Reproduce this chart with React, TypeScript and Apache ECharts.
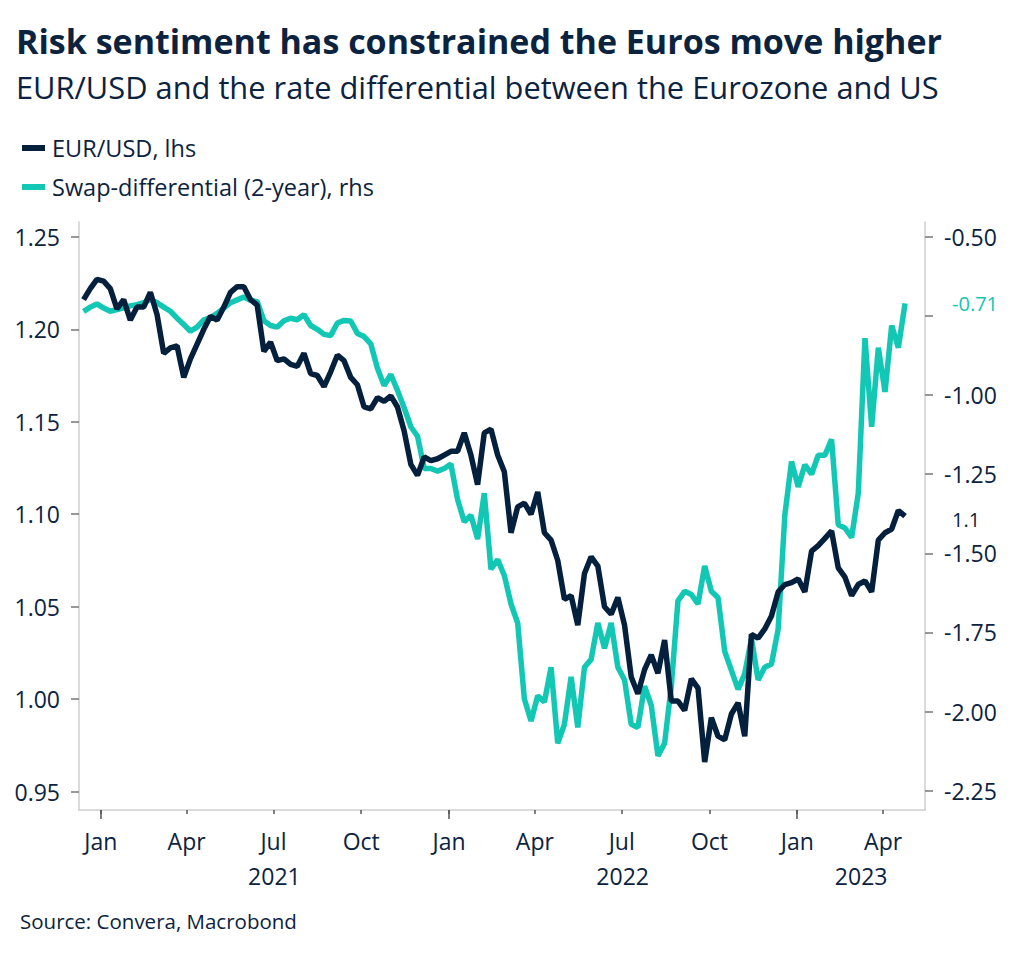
import React, { useEffect, useRef } from "react";
import * as echarts from "echarts";

// Weekly observations starting Monday 14 Dec 2020
const START_DATE = Date.UTC(2020, 11, 14);
const WEEK_MS = 7 * 86400000;

const EUR_USD = [
  1.216, 1.222, 1.227, 1.226, 1.222, 1.211, 1.216, 1.205, 1.212, 1.212,
  1.220, 1.208, 1.187, 1.190, 1.191, 1.174, 1.184, 1.192, 1.200, 1.207,
  1.205, 1.212, 1.220, 1.223, 1.223, 1.216, 1.213, 1.188, 1.193, 1.183,
  1.184, 1.181, 1.180, 1.187, 1.176, 1.175, 1.169, 1.177, 1.186, 1.183,
  1.174, 1.170, 1.158, 1.157, 1.163, 1.161, 1.164, 1.158, 1.145, 1.127,
  1.121, 1.131, 1.129, 1.130, 1.132, 1.134, 1.134, 1.144, 1.132, 1.116,
  1.144, 1.146, 1.132, 1.123, 1.090, 1.104, 1.106, 1.100, 1.112, 1.090,
  1.086, 1.075, 1.054, 1.056, 1.040, 1.068, 1.077, 1.072, 1.050, 1.046,
  1.055, 1.040, 1.012, 1.003, 1.016, 1.024, 1.014, 1.032, 0.999, 0.999,
  0.994, 1.011, 1.006, 0.966, 0.990, 0.980, 0.978, 0.992, 0.998, 0.980,
  1.035, 1.033, 1.038, 1.045, 1.058, 1.062, 1.063, 1.065, 1.058, 1.080,
  1.083, 1.087, 1.091, 1.071, 1.066, 1.056, 1.062, 1.064, 1.058, 1.086,
  1.090, 1.092, 1.102, 1.099,
];

const SWAP_2Y = [
  -0.736, -0.722, -0.712, -0.725, -0.735, -0.730, -0.724, -0.718, -0.714, -0.708,
  -0.698, -0.708, -0.722, -0.735, -0.757, -0.777, -0.798, -0.785, -0.762, -0.755,
  -0.742, -0.725, -0.708, -0.699, -0.690, -0.700, -0.705, -0.765, -0.780, -0.785,
  -0.765, -0.757, -0.762, -0.746, -0.780, -0.792, -0.808, -0.812, -0.772, -0.764,
  -0.766, -0.805, -0.815, -0.838, -0.915, -0.970, -0.935, -0.985, -1.040, -1.100,
  -1.130, -1.232, -1.232, -1.240, -1.232, -1.218, -1.330, -1.400, -1.380, -1.455,
  -1.310, -1.550, -1.520, -1.570, -1.660, -1.720, -1.960, -2.030, -1.950, -1.970,
  -1.860, -2.100, -2.040, -1.890, -2.050, -1.860, -1.835, -1.720, -1.800, -1.720,
  -1.860, -1.900, -2.040, -2.050, -1.920, -1.980, -2.140, -2.100, -1.920, -1.650,
  -1.620, -1.630, -1.660, -1.540, -1.620, -1.640, -1.810, -1.870, -1.930, -1.880,
  -1.770, -1.900, -1.860, -1.850, -1.740, -1.380, -1.210, -1.290, -1.220, -1.250,
  -1.190, -1.190, -1.140, -1.410, -1.420, -1.450, -1.310, -0.820, -1.100, -0.850,
  -0.990, -0.780, -0.850, -0.710,
];

const LEFT_TICKS = [0.95, 1.0, 1.05, 1.1, 1.15, 1.2, 1.25];
const RIGHT_TICKS = [-2.25, -2.0, -1.75, -1.5, -1.25, -1.0, -0.75, -0.5];
const RIGHT_LABELS = [-2.25, -2.0, -1.75, -1.5, -1.25, -1.0, -0.5];
const QUARTER_TICKS = [
  "2021-01-01", "2021-04-01", "2021-07-01", "2021-10-01",
  "2022-01-01", "2022-04-01", "2022-07-01", "2022-10-01",
  "2023-01-01", "2023-04-01",
];
const YEAR_TICKS = ["2021-01-01", "2022-01-01", "2023-01-01"];
const YEAR_LABELS = ["2021", "2022", "2023"];
const YEAR_LABEL_AT = ["2021-07-02", "2022-07-02", "2023-03-09"];
const MONTH_NAMES = ["Jan", "Feb", "Mar", "Apr", "May", "Jun", "Jul", "Aug", "Sep", "Oct", "Nov", "Dec"];

const NAVY = "#04203d";
const TEXT = "#0c2340";
const TEAL = "#12c7b3";
const FONT = "'Open Sans', 'Noto Sans', sans-serif";

const ts = (s: string) => Date.parse(s + "T00:00:00Z");

export default function App() {
  const ref = useRef<HTMLDivElement>(null);

  useEffect(() => {
    if (!ref.current) return;
    const chart = echarts.init(ref.current, undefined, { renderer: "svg" });

    const eurData = EUR_USD.map((v, i) => [START_DATE + i * WEEK_MS, v]);
    const swapData = SWAP_2Y.map((v, i) => [START_DATE + i * WEEK_MS, v]);
    const xMin = Date.UTC(2020, 11, 9, 5);
    const xMax = Date.UTC(2023, 4, 14, 22);

    const option: any = {
      animation: false,
      backgroundColor: "#ffffff",
      textStyle: { fontFamily: FONT },
      graphic: [
        {
          type: "text",
          left: 16,
          top: 24,
          style: {
            text: "Risk sentiment has constrained the Euros move higher",
            font: `bold 34px ${FONT}`,
            fill: TEXT,
          },
        },
        {
          type: "text",
          left: 16,
          top: 71,
          style: {
            text: "EUR/USD and the rate differential between the Eurozone and US",
            font: `30.8px ${FONT}`,
            fill: TEXT,
          },
        },
        {
          type: "text",
          left: 20,
          top: 910,
          style: {
            text: "Source: Convera, Macrobond",
            font: `20.5px ${FONT}`,
            fill: TEXT,
          },
        },
      ],
      legend: {
        orient: "vertical",
        left: 17,
        top: 131,
        itemWidth: 23,
        itemHeight: 6,
        itemGap: 15,
        icon: "rect",
        textStyle: { fontSize: 23.5, color: TEXT, fontFamily: FONT, padding: [0, 0, 0, 2] },
        data: ["EUR/USD, lhs", "Swap-differential (2-year), rhs"],
      },
      grid: { left: 79, right: 99, top: 222, bottom: 148, containLabel: false },
      xAxis: [
        {
          type: "value",
          min: xMin,
          max: xMax,
          position: "bottom",
          splitLine: { show: false },
          axisLine: { show: true, lineStyle: { color: "#cfcfcf", width: 1.5 } },
          axisTick: {
            show: true,
            customValues: QUARTER_TICKS.map(ts),
            length: 4,
            lineStyle: { color: "#555", width: 1.5 },
          },
          axisLabel: {
            customValues: QUARTER_TICKS.map(ts),
            formatter: (v: number) => MONTH_NAMES[new Date(v).getUTCMonth()],
            margin: 19,
            fontSize: 23,
            color: TEXT,
            fontFamily: FONT,
          },
        },
        {
          type: "value",
          min: xMin,
          max: xMax,
          position: "bottom",
          splitLine: { show: false },
          axisLine: { show: false },
          axisTick: {
            show: true,
            customValues: YEAR_TICKS.map(ts),
            length: 9,
            lineStyle: { color: "#555", width: 1.5 },
          },
          axisLabel: {
            customValues: YEAR_LABEL_AT.map(ts),
            formatter: (v: number) => YEAR_LABELS[YEAR_LABEL_AT.map(ts).indexOf(v)],
            margin: 54,
            fontSize: 23,
            color: TEXT,
            fontFamily: FONT,
          },
        },
      ],
      yAxis: [
        {
          type: "value",
          position: "left",
          min: 0.9401,
          max: 1.258,
          splitLine: { show: false },
          axisLine: { show: true, lineStyle: { color: "#cfcfcf", width: 1.5 } },
          axisTick: {
            show: true,
            customValues: LEFT_TICKS,
            length: 8,
            lineStyle: { color: "#777", width: 1.5 },
          },
          axisLabel: {
            customValues: LEFT_TICKS,
            formatter: (v: number) => v.toFixed(2),
            margin: 19,
            fontSize: 23,
            color: TEXT,
            fontFamily: FONT,
          },
        },
        {
          type: "value",
          position: "right",
          min: -2.311,
          max: -0.453,
          splitLine: { show: false },
          axisLine: { show: true, lineStyle: { color: "#cfcfcf", width: 1.5 } },
          axisTick: {
            show: true,
            customValues: RIGHT_TICKS,
            length: 8,
            lineStyle: { color: "#777", width: 1.5 },
          },
          axisLabel: {
            customValues: RIGHT_LABELS,
            formatter: (v: number) => v.toFixed(2),
            margin: 19,
            fontSize: 23,
            color: TEXT,
            fontFamily: FONT,
          },
        },
      ],
      series: [
        {
          name: "Swap-differential (2-year), rhs",
          type: "line",
          xAxisIndex: 0,
          yAxisIndex: 1,
          data: swapData,
          showSymbol: false,
          symbol: "none",
          lineStyle: { color: TEAL, width: 5.5 },
          itemStyle: { color: TEAL },
          z: 2,
          endLabel: {
            show: true,
            formatter: (p: any) => p.value[1].toFixed(2),
            color: TEAL,
            fontSize: 20,
            fontFamily: FONT,
            distance: 47,
          },
        },
        {
          name: "EUR/USD, lhs",
          type: "line",
          xAxisIndex: 0,
          yAxisIndex: 0,
          data: eurData,
          showSymbol: false,
          symbol: "none",
          lineStyle: { color: NAVY, width: 5.5 },
          itemStyle: { color: NAVY },
          z: 3,
          endLabel: {
            show: true,
            formatter: (p: any) => p.value[1].toFixed(1),
            color: TEXT,
            fontSize: 20,
            fontFamily: FONT,
            distance: 47,
            offset: [0, 3],
          },
        },
      ],
    };

    chart.setOption(option);
    return () => chart.dispose();
  }, []);

  return (
    <div
      ref={ref}
      style={{ position: "fixed", left: 0, top: 0, width: 1024, height: 958, background: "#fff" }}
    />
  );
}
